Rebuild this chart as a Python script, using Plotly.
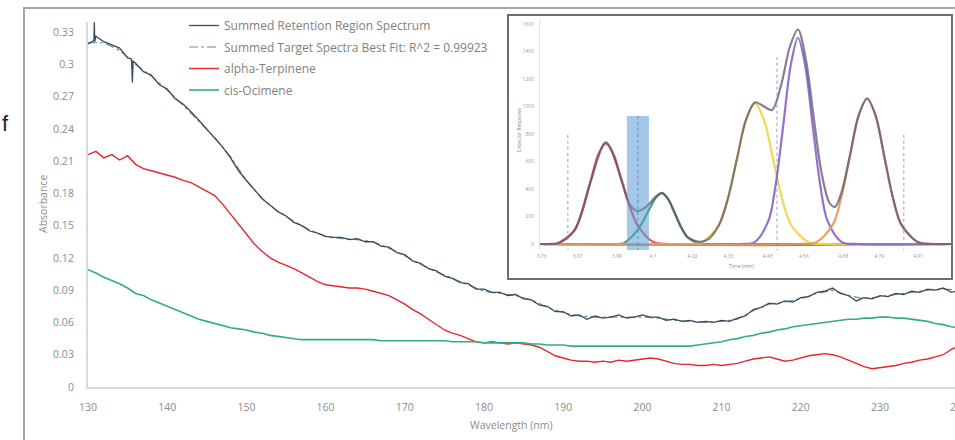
import plotly.graph_objects as go

# ---------------- main chart data ----------------
wavelength = list(range(130, 241))

summed_spectrum = [
    0.319, 0.326, 0.321, 0.318, 0.315, 0.306, 0.301, 0.293, 0.290, 0.281,
    0.277, 0.268, 0.263, 0.256, 0.248, 0.240, 0.231, 0.223, 0.213, 0.201,
    0.192, 0.183, 0.175, 0.169, 0.163, 0.159, 0.153, 0.150, 0.145, 0.143,
    0.140, 0.139, 0.139, 0.137, 0.138, 0.135, 0.135, 0.131, 0.130, 0.125,
    0.123, 0.117, 0.115, 0.110, 0.108, 0.103, 0.101, 0.097, 0.096, 0.091,
    0.091, 0.088, 0.088, 0.085, 0.086, 0.082, 0.081, 0.076, 0.075, 0.070,
    0.070, 0.066, 0.067, 0.063, 0.066, 0.064, 0.065, 0.067, 0.064, 0.065,
    0.067, 0.065, 0.065, 0.062, 0.063, 0.061, 0.062, 0.060, 0.061, 0.060,
    0.062, 0.061, 0.064, 0.066, 0.072, 0.074, 0.078, 0.077, 0.080, 0.079,
    0.083, 0.084, 0.088, 0.089, 0.092, 0.087, 0.085, 0.080, 0.083, 0.082,
    0.085, 0.084, 0.087, 0.086, 0.089, 0.088, 0.091, 0.090, 0.092, 0.088,
    0.090,
]
# narrow spikes in the summed spectrum
spike_wl = [130.75, 130.8, 130.85, 135.5, 135.6, 135.7]
spike_vals = [0.322, 0.339, 0.321, 0.305, 0.283, 0.303]

alpha_terpinene = [
    0.216, 0.219, 0.213, 0.216, 0.211, 0.215, 0.207, 0.203, 0.201, 0.199,
    0.197, 0.195, 0.192, 0.190, 0.186, 0.182, 0.178, 0.170, 0.161, 0.151,
    0.142, 0.133, 0.126, 0.120, 0.116, 0.113, 0.110, 0.106, 0.102, 0.098,
    0.095, 0.094, 0.093, 0.092, 0.092, 0.091, 0.089, 0.087, 0.085, 0.081,
    0.077, 0.072, 0.068, 0.063, 0.058, 0.053, 0.050, 0.048, 0.045, 0.042,
    0.041, 0.042, 0.041, 0.040, 0.041, 0.040, 0.039, 0.037, 0.033, 0.029,
    0.027, 0.025, 0.024, 0.024, 0.023, 0.024, 0.023, 0.025, 0.024, 0.025,
    0.026, 0.027, 0.026, 0.024, 0.022, 0.021, 0.021, 0.020, 0.020, 0.021,
    0.020, 0.021, 0.022, 0.024, 0.026, 0.027, 0.028, 0.026, 0.024, 0.025,
    0.027, 0.029, 0.030, 0.031, 0.030, 0.028, 0.025, 0.022, 0.019, 0.017,
    0.018, 0.019, 0.020, 0.022, 0.023, 0.025, 0.026, 0.028, 0.030, 0.035,
    0.038,
]

cis_ocimene = [
    0.109, 0.106, 0.102, 0.099, 0.096, 0.092, 0.087, 0.085, 0.081, 0.078,
    0.075, 0.072, 0.069, 0.066, 0.063, 0.061, 0.059, 0.057, 0.055, 0.054,
    0.053, 0.051, 0.050, 0.048, 0.047, 0.046, 0.045, 0.044, 0.044, 0.044,
    0.044, 0.044, 0.044, 0.044, 0.044, 0.044, 0.044, 0.043, 0.043, 0.043,
    0.043, 0.043, 0.043, 0.043, 0.043, 0.043, 0.042, 0.042, 0.042, 0.042,
    0.041, 0.041, 0.041, 0.041, 0.041, 0.041, 0.040, 0.040, 0.039, 0.039,
    0.039, 0.038, 0.038, 0.038, 0.038, 0.038, 0.038, 0.038, 0.038, 0.038,
    0.038, 0.038, 0.038, 0.038, 0.038, 0.038, 0.038, 0.039, 0.040, 0.041,
    0.042, 0.044, 0.045, 0.047, 0.048, 0.050, 0.051, 0.053, 0.054, 0.056,
    0.057, 0.058, 0.059, 0.060, 0.061, 0.062, 0.063, 0.063, 0.064, 0.064,
    0.065, 0.065, 0.064, 0.064, 0.063, 0.062, 0.061, 0.059, 0.058, 0.056,
    0.055,
]

fit_wl = list(range(130, 241, 2))
best_fit = [
    0.320, 0.320, 0.313, 0.300, 0.289, 0.276, 0.262, 0.247, 0.232, 0.214,
    0.192, 0.175, 0.163, 0.154, 0.146, 0.140, 0.138, 0.137, 0.135, 0.129,
    0.122, 0.114, 0.107, 0.101, 0.095, 0.089, 0.087, 0.085, 0.081, 0.074,
    0.069, 0.066, 0.065, 0.065, 0.065, 0.065, 0.064, 0.062, 0.061, 0.060,
    0.061, 0.063, 0.071, 0.077, 0.079, 0.082, 0.087, 0.090, 0.085, 0.082,
    0.084, 0.086, 0.088, 0.090, 0.091, 0.090,
]

y_tickvals = [0, 0.03, 0.06, 0.09, 0.12, 0.15, 0.18, 0.21, 0.24, 0.27, 0.30, 0.33]
y_ticktext = ["0", "0.03", "0.06", "0.09", "0.12", "0.15", "0.18", "0.21",
              "0.24", "0.27", "0.3", "0.33"]
x_tickvals = [130, 140, 150, 160, 170, 180, 190, 200, 210, 220, 230, 240]
x_ticktext = [str(v) for v in x_tickvals]

# ---------------- inset chromatogram data ----------------
red_t = [3.755, 3.80, 3.812, 3.860, 3.884, 3.908, 3.932, 3.956, 3.980, 4.004, 4.028, 4.052, 4.100, 4.15, 5.012]
red_v = [0, 0, 8, 99, 238, 444, 646, 732, 650, 460, 280, 140, 15, 0, 0]
green_t = [3.755, 3.97, 4.010, 4.049, 4.068, 4.088, 4.108, 4.127, 4.146, 4.166, 4.186, 4.205, 4.244, 4.30, 5.012]
green_v = [0, 0, 6, 90, 160, 250, 335, 370, 326, 225, 120, 50, 4, 0, 0]
yellow_t = [3.755, 4.19, 4.246, 4.301, 4.3285, 4.356, 4.3835, 4.411, 4.4385, 4.466, 4.4935, 4.521, 4.576, 4.63, 5.012]
yellow_v = [0, 0, 11, 138, 332, 620, 901, 1022, 901, 620, 332, 138, 11, 0, 0]
purple_t = [3.755, 4.36, 4.41, 4.452, 4.474, 4.497, 4.520, 4.542, 4.564, 4.587, 4.610, 4.632, 4.676, 4.73, 5.012]
purple_v = [0, 0, 14, 170, 430, 860, 1300, 1500, 1300, 860, 430, 170, 14, 0, 0]
orange_t = [3.755, 4.54, 4.597, 4.649, 4.675, 4.701, 4.727, 4.753, 4.779, 4.805, 4.831, 4.857, 4.909, 4.96, 5.012]
orange_v = [0, 0, 12, 143, 344, 642, 933, 1058, 933, 642, 344, 143, 12, 0, 0]
total_t = [3.755, 3.78, 3.812, 3.860, 3.908, 3.956, 4.004, 4.028, 4.052, 4.070, 4.088, 4.108,
           4.127, 4.146, 4.166, 4.186, 4.205, 4.244, 4.270, 4.301, 4.3285, 4.356, 4.3835,
           4.411, 4.4385, 4.463, 4.490, 4.518, 4.542, 4.566, 4.590, 4.614, 4.638, 4.655,
           4.675, 4.701, 4.727, 4.753, 4.779, 4.805, 4.831, 4.857, 4.909, 4.95, 5.012]
total_v = [0, 0, 8, 99, 444, 740, 465, 290, 240, 255, 290, 345, 372, 326, 225, 120, 50, 15,
           38, 138, 332, 621, 905, 1030, 1000, 975, 1150, 1440, 1560, 1344, 923, 518, 300,
           270, 378, 649, 934, 1058, 933, 642, 344, 143, 12, 0, 0]

inset_xtickvals = [3.76, 3.87, 3.99, 4.10, 4.22, 4.33, 4.45, 4.56, 4.68, 4.79, 4.91, 5.02]
inset_xticktext = ["3.76", "3.87", "3.99", "4.1", "4.22", "4.33", "4.45", "4.56", "4.68", "4.79", "4.91", "5.02"]
inset_ytickvals = [0, 200, 400, 600, 800, 1000, 1200, 1400, 1600]
inset_yticktext = ["0", "200", "400", "600", "800", "1000", "1200", "1400", "1600"]

highlight_window = [4.020, 4.0875]
highlight_height = [-138, 931]
marker_lines_t = [3.840, 4.478, 4.865]
marker_lines_top = [807, 1360, 815]
marker_line_bottom = -100

# ---------------- figure ----------------
FONT = "Open Sans"
GRAY = "#8c8c8c"

fig = go.Figure()

# merge spikes into the summed spectrum
dark_pts = sorted(list(zip(wavelength, summed_spectrum)) + list(zip(spike_wl, spike_vals)))
dark_x = [p[0] for p in dark_pts]
dark_y = [p[1] for p in dark_pts]

fig.add_trace(go.Scatter(x=fit_wl, y=best_fit, mode="lines",
                         name="Summed Target Spectra Best Fit: R^2 = 0.99923",
                         line=dict(color="#5f8f96", width=1.2, dash="dashdot"),
                         legendrank=2, legendgroup="b"))
fig.add_trace(go.Scatter(x=dark_x, y=dark_y, mode="lines",
                         name="Summed Retention Region Spectrum",
                         line=dict(color="#3c4a60", width=1.3),
                         legendrank=1, legendgroup="a"))
fig.add_trace(go.Scatter(x=wavelength, y=alpha_terpinene, mode="lines",
                         name="alpha-Terpinene",
                         line=dict(color="#e5262e", width=1.4),
                         legendrank=3, legendgroup="c"))
fig.add_trace(go.Scatter(x=wavelength, y=cis_ocimene, mode="lines",
                         name="cis-Ocimene",
                         line=dict(color="#32b07c", width=1.6),
                         legendrank=4, legendgroup="d"))

inset_series = [
    (red_t, red_v, "rgba(226,70,76,0.9)"),
    (green_t, green_v, "rgba(52,150,110,0.9)"),
    (yellow_t, yellow_v, "rgba(246,212,70,0.95)"),
    (purple_t, purple_v, "rgba(138,98,200,0.9)"),
    (orange_t, orange_v, "rgba(232,152,88,0.9)"),
    (total_t, total_v, "rgba(95,85,105,0.75)"),
]
for tx, ty, col in inset_series:
    fig.add_trace(go.Scatter(x=tx, y=ty, mode="lines", xaxis="x2", yaxis="y2",
                             line=dict(color=col, width=2.2, shape="spline", smoothing=0.9),
                             showlegend=False, hoverinfo="skip"))

# geometry helpers (pixels -> paper)
ML, MT, MB, W, H = 88, 10, 53, 955, 440
PW = W - ML
PH = H - MT - MB


def px(x):
    return (x - ML) / PW


def py(y):
    return (H - MB - y) / PH


shapes = [
    # outer chart frame
    dict(type="rect", xref="paper", yref="paper", x0=px(24), x1=px(962), y0=py(445), y1=py(8),
         line=dict(color="#a6a6a6", width=2), fillcolor="rgba(0,0,0,0)", layer="below"),
    # inset frame
    dict(type="rect", xref="paper", yref="paper", x0=px(508), x1=px(952), y0=py(279), y1=py(15),
         line=dict(color="#6e6e6e", width=2), fillcolor="white", layer="below"),
    # highlighted window
    dict(type="rect", xref="x2", yref="y2", x0=highlight_window[0], x1=highlight_window[1],
         y0=highlight_height[0], y1=highlight_height[1],
         line=dict(width=0), fillcolor="rgba(91,155,213,0.55)", layer="above"),
    dict(type="line", xref="x2", yref="y2",
         x0=sum(highlight_window) / 2, x1=sum(highlight_window) / 2,
         y0=highlight_height[0], y1=highlight_height[1],
         line=dict(color="rgba(70,130,190,0.8)", width=1, dash="dot")),
]
for t, top in zip(marker_lines_t, marker_lines_top):
    shapes.append(dict(type="line", xref="x2", yref="y2", x0=t, x1=t, y0=marker_line_bottom, y1=top,
                       line=dict(color="rgba(90,140,200,0.8)", width=1, dash="dot")))


def label(text, x, y, size, color=GRAY, angle=0, family=FONT):
    return dict(text=text, xref="paper", yref="paper", x=px(x), y=py(y), showarrow=False,
                xanchor="center", yanchor="middle", textangle=angle,
                font=dict(family=family, size=size, color=color))


annotations = [
    label("Absorbance", 43, 204, 10.5, angle=-90),
    label("Wavelength (nm)", 511, 425, 10.5),
    label(x_ticktext[-1], 959, 407, 10.5),
    label("f", 5, 123, 22, color="#222222", family="Liberation Sans"),
    label("Time (min)", 741, 266, 5, color="#888888"),
    label("Detector Response", 519, 130, 5, color="#888888", angle=-90),
]

fig.update_layout(
    width=W, height=H,
    margin=dict(l=ML, r=0, t=MT, b=MB),
    paper_bgcolor="white",
    plot_bgcolor="rgba(0,0,0,0)",
    font=dict(family=FONT, color=GRAY),
    xaxis=dict(domain=[0, 1], range=[130, 130 + PW / 7.92], tickvals=x_tickvals[:-1],
               ticktext=x_ticktext[:-1], showgrid=False, zeroline=False, showline=True,
               linecolor="#d9d9d9", linewidth=2, ticks="", ticklabelstandoff=9,
               tickfont=dict(family=FONT, size=10.5, color=GRAY)),
    yaxis=dict(domain=[0, py(22)], range=[0, 0.3393], tickvals=y_tickvals, ticktext=y_ticktext,
               showgrid=False, zeroline=False, showline=True, linecolor="#d9d9d9", linewidth=2,
               ticks="", ticklabelstandoff=10, tickfont=dict(family=FONT, size=10.5, color=GRAY)),
    xaxis2=dict(domain=[px(540), px(952)], range=[3.755, 5.012], anchor="y2",
                tickvals=inset_xtickvals, ticktext=inset_xticktext, showgrid=False,
                zeroline=False, showline=False, ticks="", ticklabelstandoff=2,
                tickfont=dict(family=FONT, size=5, color="#999999")),
    yaxis2=dict(domain=[py(250), py(20)], range=[-43.6, 1629], anchor="x2",
                tickvals=inset_ytickvals, ticktext=inset_yticktext, showgrid=False,
                zeroline=False, showline=True, linecolor="#e2e2e2", linewidth=1, ticks="",
                ticklabelstandoff=4, tickfont=dict(family=FONT, size=5, color="#999999")),
    legend=dict(x=px(184), y=py(11), xanchor="left", yanchor="top", bgcolor="rgba(0,0,0,0)",
                font=dict(family=FONT, size=12, color="#7f7f7f"), tracegroupgap=2.5,
                itemwidth=30),
    shapes=shapes,
    annotations=annotations,
    showlegend=True,
)

fig.write_html("out.html", config={"displayModeBar": False},
               post_script="document.body.style.margin='0';document.body.style.overflow='hidden';")
